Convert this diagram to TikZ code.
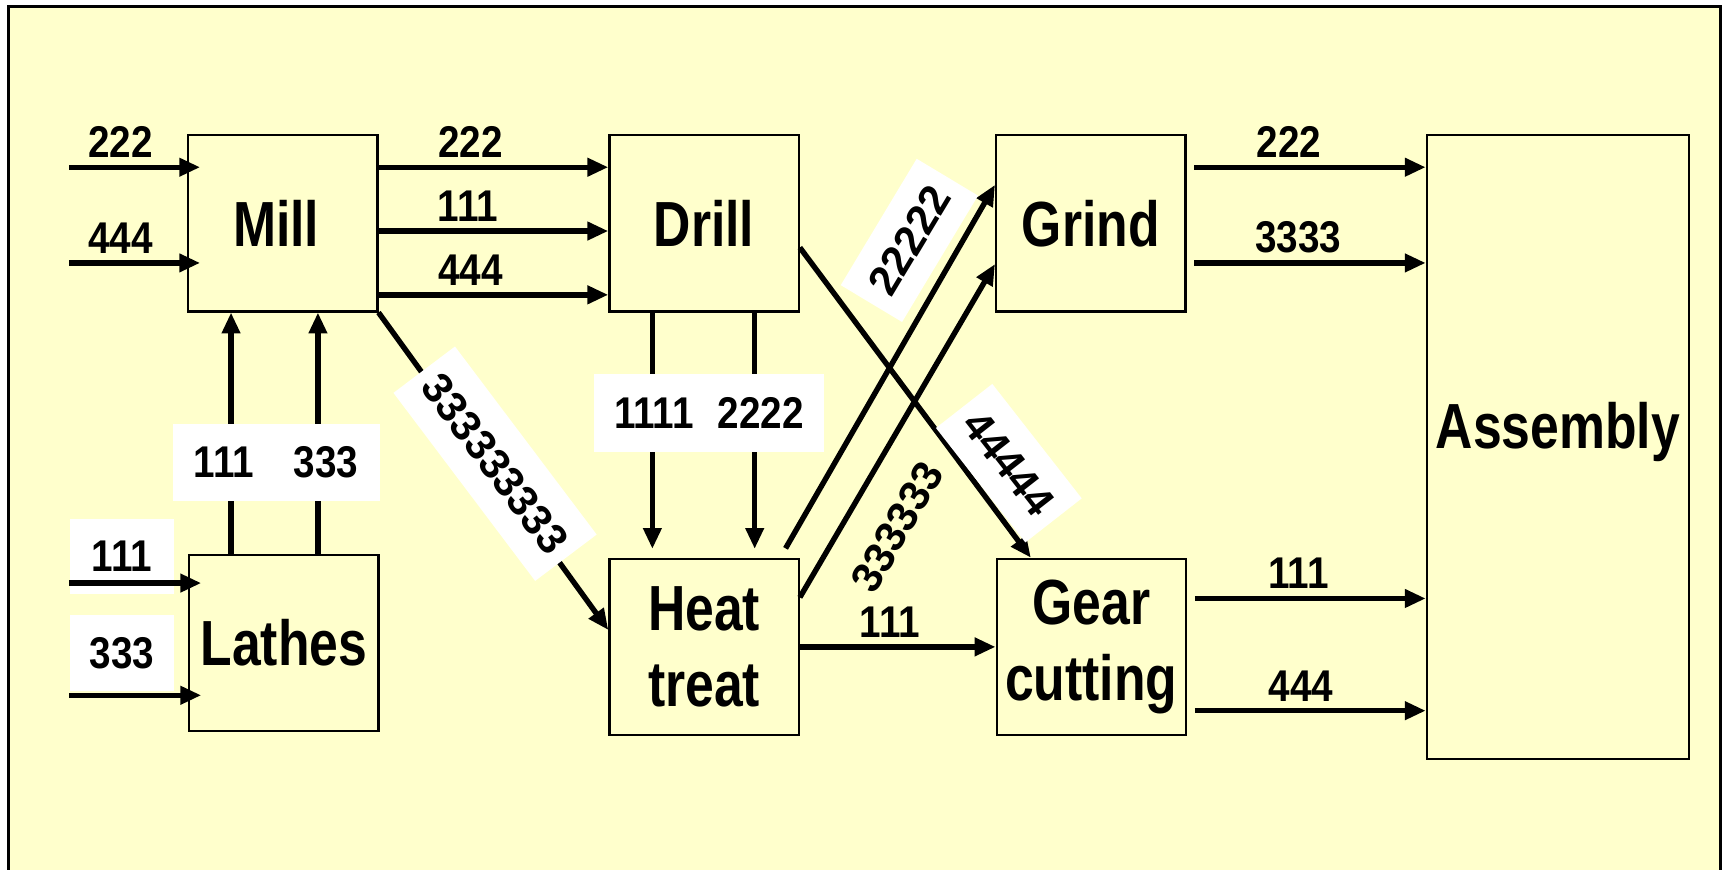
\documentclass[tikz,border=0pt]{standalone}
\usepackage{tikz}
\usetikzlibrary{positioning,arrows.meta}
\usepackage{xcolor}
\usepackage{fontspec}
\setmainfont{Liberation Sans}
\newfontfamily\narrowsans[FakeStretch=0.87]{Liberation Sans}
\newfontfamily\stationsans[FakeStretch=0.81]{Liberation Sans}
\definecolor{paleyellow}{RGB}{255,255,204}

\tikzset{
  station/.style={draw=black,line width=0.6pt,minimum width=1.72cm,
    minimum height=1.60cm,inner sep=0pt,align=center,
    font=\stationsans\bfseries\fontsize{16.5}{19.6}\selectfont},
  flow/.style={draw=black,line width=1.4pt,
    -{Triangle[length=1.9mm,width=1.6mm]}},
  qty/.style={font=\narrowsans\bfseries\fontsize{11.5}{13}\selectfont,
    inner sep=1.8pt},
  tagbox/.style={fill=white,inner sep=0pt,
    font=\narrowsans\bfseries\fontsize{11.5}{13}\selectfont},
  slanttag/.style={inner sep=0pt,font=\bfseries\fontsize{11}{13}\selectfont},
}

\begin{document}
\begin{tikzpicture}
  \useasboundingbox (0,0) rectangle (15.68,7.90);
  \fill[white] (0,0) rectangle (15.68,7.90);
  \clip (0,0) rectangle (15.68,7.90);
  \fill[paleyellow,draw=black,line width=0.8pt]
        (0.076,-0.5) rectangle (15.64,7.84);

  % stations
  \node[station] (mill)   at (2.57,5.87)  {\raisebox{-0.6mm}{Mill}\hspace*{1.2mm}};
  \node[station] (lathes) at (2.58,2.055) {Lathes};
  \node[station] (drill)  at (6.40,5.87)  {Drill};
  \node[station] (heat)   at (6.40,2.02)  {Heat\\treat};
  \node[station] (grind)  at (9.915,5.87) {Grind};
  \node[station] (gear)   at (9.92,2.02)  {Gear\\cutting};
  \node[station,minimum width=2.38cm,minimum height=5.67cm]
        (asm) at (14.16,3.835) {};
  \node[font=\stationsans\bfseries\fontsize{16.5}{19.6}\selectfont]
        (asmtext) at ([yshift=0.135cm]asm.center) {Assembly};

  % raw stock coming in
  \coordinate (in1) at (0.63,6.38);
  \coordinate (in2) at (0.63,5.51);
  \coordinate (in3) at (0.63,2.60);
  \coordinate (in4) at (0.63,1.58);
  \node[tagbox,minimum width=0.94cm,minimum height=0.68cm]
        (tagin1) at (1.11,2.84) {111};
  \node[tagbox,minimum width=0.94cm,minimum height=0.69cm]
        (tagin2) at (1.11,1.965) {333};
  \draw[flow] (in1) -- node[qty,above,pos=0.39] {222}
        ([xshift=0.12cm]mill.west |- in1);
  \draw[flow] (in2) -- node[qty,above,pos=0.39] {444}
        ([xshift=0.12cm]mill.west |- in2);
  \draw[flow] (in3) -- ([xshift=0.12cm]lathes.west |- in3);
  \draw[flow] (in4) -- ([xshift=0.12cm]lathes.west |- in4);

  % lathes up to mill
  \draw[flow] ([xshift=-0.48cm]lathes.north)
        -- ([xshift=-0.48cm]lathes.north |- mill.south);
  \draw[flow] ([xshift=0.31cm]lathes.north)
        -- ([xshift=0.31cm]lathes.north |- mill.south);
  \node[tagbox,minimum width=1.88cm,minimum height=0.70cm]
        (tagup) at (2.51,3.70) {111\hspace{3.6mm}333};

  % mill to drill
  \draw[flow] ([yshift=0.51cm]mill.east)
        -- node[qty,above,pos=0.40] {222} ([yshift=0.51cm]drill.west);
  \draw[flow] ([yshift=-0.07cm]mill.east)
        -- node[qty,above,pos=0.39] {111} ([yshift=-0.07cm]drill.west);
  \draw[flow] ([yshift=-0.65cm]mill.east)
        -- node[qty,above,pos=0.40] {444} ([yshift=-0.65cm]drill.west);

  % mill to heat treat
  \draw[flow] (mill.south east) -- (heat.170);
  \node[slanttag,fill=white,rotate=-53,minimum width=2.14cm,
        minimum height=0.70cm] (tagmh) at (4.50,3.685) {333333333};

  % drill down to heat treat
  \draw[flow,shorten >=0.08cm] ([xshift=-0.47cm]drill.south)
        -- ([xshift=-0.47cm]heat.north);
  \draw[flow,shorten >=0.08cm] ([xshift=0.46cm]drill.south)
        -- ([xshift=0.46cm]heat.north);
  \node[tagbox,minimum width=2.09cm,minimum height=0.71cm]
        (tagdown) at (6.445,4.145) {1111\hspace{2.2mm}2222};

  % crossing lines
  \draw[flow] ([yshift=-0.22cm]drill.east) -- ([xshift=-0.55cm]gear.north);
  \draw[flow] ([shift={(-0.13cm,0.085cm)}]heat.north east)
        -- ([yshift=0.35cm]grind.west);
  \draw[flow] ([yshift=0.45cm]heat.east) -- ([yshift=-0.37cm]grind.west);
  \node[slanttag,fill=white,rotate=-52,minimum width=1.32cm,
        minimum height=0.65cm] (tagdg) at (9.17,3.69) {44444};
  \node[slanttag,fill=white,rotate=59,minimum width=1.34cm,
        minimum height=0.65cm] (taghg) at (8.266,5.715) {22222};
  \node[slanttag,rotate=60] (taghg2) at (8.155,3.11) {333333};

  % heat treat to gear cutting
  \draw[flow] (heat.east) -- node[qty,above,pos=0.46] {111} (gear.west);

  % into assembly
  \draw[flow] ([shift={(0.07cm,0.51cm)}]grind.east) coordinate (ga1)
        -- node[qty,above,pos=0.41] {222} (asm.west |- ga1);
  \draw[flow] ([shift={(0.07cm,-0.36cm)}]grind.east) coordinate (ga2)
        -- node[qty,above,pos=0.45] {3333} (asm.west |- ga2);
  \draw[flow] ([shift={(0.07cm,0.44cm)}]gear.east) coordinate (ga3)
        -- node[qty,above,pos=0.45] {111} (asm.west |- ga3);
  \draw[flow] ([shift={(0.07cm,-0.58cm)}]gear.east) coordinate (ga4)
        -- node[qty,above,pos=0.46] {444} (asm.west |- ga4);
\end{tikzpicture}
\end{document}
